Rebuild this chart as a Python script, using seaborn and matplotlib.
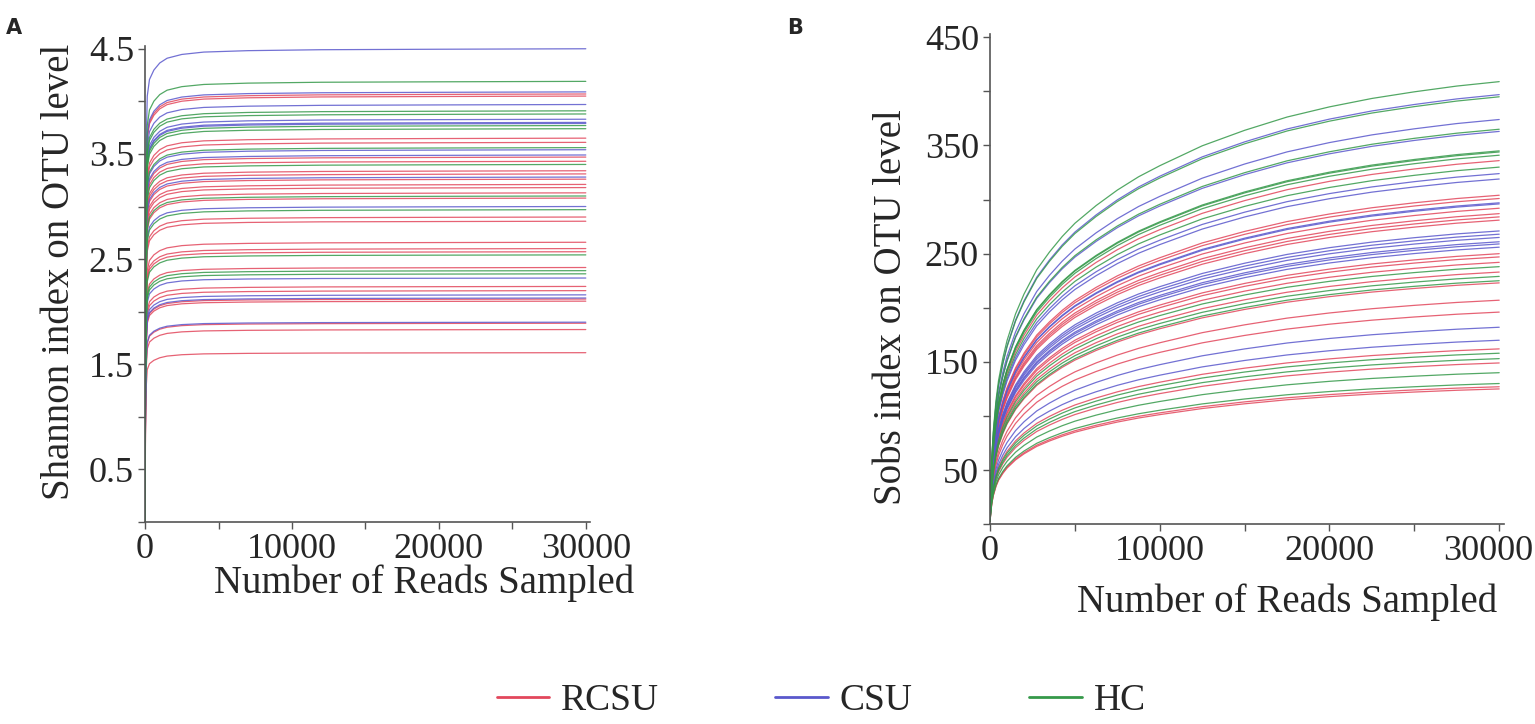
import numpy as np
import pandas as pd
import matplotlib
matplotlib.use('Agg')
import matplotlib.pyplot as plt
from matplotlib.lines import Line2D
from matplotlib.ticker import MultipleLocator
import seaborn as sns

# Final (30000 reads) values of each rarefaction curve
shannon_rcsu = [4.07, 4.05, 3.65, 3.61, 3.47, 3.43, 3.34, 3.31, 3.26, 3.21, 3.18, 3.13,
                3.08, 2.90, 2.86, 2.66, 2.60, 2.57, 2.42, 2.24, 2.20, 2.12, 2.10, 1.89,
                1.83, 1.61]
shannon_csu = [4.50, 4.09, 3.97, 3.83, 3.80, 3.79, 3.54, 3.49, 3.28, 3.00, 2.32, 2.16,
               2.13, 1.90]
shannon_hc = [4.19, 3.91, 3.88, 3.77, 3.74, 3.56, 3.40, 3.10, 2.97, 2.54, 2.39, 2.36]

sobs_rcsu = [336, 304, 301, 292, 287, 284, 281, 250, 247, 242, 233, 223, 207, 196,
             162, 149, 127, 125]
sobs_csu = [397, 374, 363, 324, 319, 297, 296, 271, 268, 265, 261, 259, 256, 182, 170]
sobs_hc = [409, 395, 365, 345, 344, 341, 330, 238, 229, 225, 158, 153, 140, 130]

# Shape of the curves (fraction of the final value) read along the x axis
shannon_reads = [0, 30, 80, 150, 300, 600, 1000, 1500, 2500, 4000, 7000, 12000, 20000, 30000]
shannon_shape = [0.0, 0.55, 0.80, 0.90, 0.935, 0.955, 0.97, 0.98, 0.988, 0.993, 0.996,
                 0.998, 0.999, 1.0]
sobs_reads = [0, 50, 120, 200, 350, 500, 750, 1000, 1500, 2000, 2750, 3500, 4250, 5000,
              6250, 7500, 8750, 10000, 12500, 15000, 17500, 20000, 22500, 25000,
              27500, 30000]
sobs_shape = [0.02, 0.10, 0.165, 0.215, 0.28, 0.325, 0.375, 0.415, 0.475, 0.52, 0.575,
              0.615, 0.65, 0.68, 0.72, 0.755, 0.785, 0.81, 0.855, 0.89, 0.92, 0.943,
              0.962, 0.977, 0.99, 1.0]

x_ticks = [0, 10000, 20000, 30000]
x_ticklabels = ['0', '10000', '20000', '30000']

groups = ['RCSU', 'CSU', 'HC']
palette = {'RCSU': '#e2475c', 'CSU': '#5a58cc', 'HC': '#35994a'}


def long_table(finals, reads, shape):
    rows = []
    for g, vals in zip(groups, finals):
        for i, v in enumerate(vals):
            for r, s in zip(reads, shape):
                rows.append((g, f'{g}{i}', r, v * s))
    return pd.DataFrame(rows, columns=['group', 'sample', 'reads', 'value'])


df_shannon = long_table([shannon_rcsu, shannon_csu, shannon_hc], shannon_reads, shannon_shape)
df_sobs = long_table([sobs_rcsu, sobs_csu, sobs_hc], sobs_reads, sobs_shape)

sns.set_style('ticks')
plt.rcParams['font.family'] = ['Liberation Serif', 'DejaVu Serif']

fig = plt.figure(figsize=(15.35, 7.24), dpi=100)
ax1 = fig.add_axes([0.0945, 0.279, 0.290, 0.658])
ax2 = fig.add_axes([0.645, 0.276, 0.335, 0.677])

for ax, df in [(ax1, df_shannon), (ax2, df_sobs)]:
    sns.lineplot(data=df, x='reads', y='value', hue='group', units='sample',
                 estimator=None, palette=palette, linewidth=0.9, alpha=0.85,
                 legend=False, ax=ax)
    ax.set_xlim(0, 30300)
    ax.xaxis.set_minor_locator(MultipleLocator(5000))
    sns.despine(ax=ax)
    for s in ['left', 'bottom']:
        ax.spines[s].set_color('#555555')
        ax.spines[s].set_linewidth(1.2)
    ax.tick_params(which='both', direction='out', length=5, width=1, color='#555555',
                   labelsize=26, pad=3)
    ax.set_xlabel('Number of Reads Sampled', fontsize=28)

ax1.set_xticks(x_ticks, labels=x_ticklabels)
ax1.set_ylim(0, 4.53)
ax1.set_yticks([0.5, 1.5, 2.5, 3.5, 4.5])
ax1.yaxis.set_minor_locator(MultipleLocator(0.5))
ax1.set_ylabel('Shannon index on OTU level', fontsize=28)
ax1.yaxis.set_label_coords(-0.15, 0.525)
ax1.xaxis.set_label_coords(0.627, -0.09)

# in panel B the last tick label sits a little left of its tick, as in the figure
ax2.set_xticks(x_ticks, labels=x_ticklabels[:-1] + [''])
ax2.annotate(x_ticklabels[-1], xy=(x_ticks[-1], 0), xycoords=('data', 'axes fraction'),
             xytext=(-8, -8), textcoords='offset points', ha='center', va='top',
             fontsize=26, color='#262626')
ax2.set_ylim(0, 453)
ax2.set_yticks([50, 150, 250, 350, 450])
ax2.yaxis.set_minor_locator(MultipleLocator(50))
ax2.set_ylabel('Sobs index on OTU level', fontsize=28)
ax2.yaxis.set_label_coords(-0.156, 0.443)
ax2.xaxis.set_label_coords(0.578, -0.12)

fig.text(0.004, 0.975, 'A', fontsize=15, fontweight='bold', family='DejaVu Sans', va='top')
fig.text(0.513, 0.975, 'B', fontsize=15, fontweight='bold', family='DejaVu Sans', va='top')

handles = [Line2D([], [], color=palette[g], lw=2) for g in groups]
fig.legend(handles, groups, loc='center', bbox_to_anchor=(0.535, 0.032), ncol=3,
           frameon=False, fontsize=27, handlelength=1.4, columnspacing=3.1,
           handletextpad=0.32)

fig.savefig('out.png', dpi=100)
